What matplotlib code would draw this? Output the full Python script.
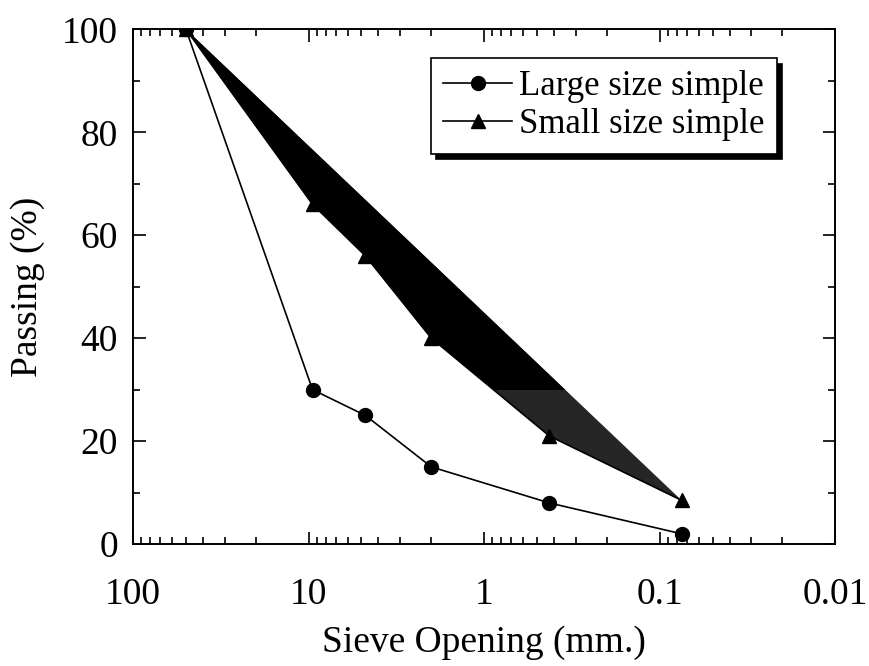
import matplotlib.pyplot as plt
from matplotlib.patches import Rectangle
from matplotlib.ticker import FixedLocator, FuncFormatter, MultipleLocator

plt.rcParams['font.family'] = ['Liberation Serif', 'DejaVu Serif']

# sieve openings (mm) and percent passing
sieve = [50, 9.5, 4.75, 2.0, 0.425, 0.075]
large = [100, 30, 25, 15, 8, 2]
small = [100, 66, 56, 40, 21, 8.5]
xticks = [100, 10, 1, 0.1, 0.01]

fig = plt.figure(figsize=(8.7, 6.66), dpi=100)
ax = fig.add_axes([0.153, 0.183, 0.807, 0.773])

# filled envelope of the small sample curve (lower part prints a bit lighter)
ax.fill(sieve, small, color='#262626', lw=0, zorder=1)
top = ax.fill(sieve, small, color='black', lw=0, zorder=1)[0]
clip = Rectangle((1000, 30), -1000, 100, transform=ax.transData)
top.set_clip_path(clip)

ax.plot(sieve, large, color='black', lw=1.2, marker='o', markersize=10,
        label='Large size simple', zorder=3)
ax.plot(sieve, small, color='black', lw=1.2, marker='^', markersize=10,
        label='Small size simple', zorder=2)

ax.set_xscale('log')
ax.set_xlim(100, 0.01)
ax.set_ylim(0, 100)
ax.xaxis.set_major_locator(FixedLocator(xticks))
ax.xaxis.set_major_formatter(FuncFormatter(lambda v, p: '%g' % v))
ax.yaxis.set_major_locator(MultipleLocator(20))
ax.yaxis.set_minor_locator(MultipleLocator(10))

ax.tick_params(which='both', direction='in', top=True, right=True, width=1.2)
ax.tick_params(which='major', length=9, labelsize=27)
ax.tick_params(which='minor', length=5)
ax.tick_params(axis='x', which='major', pad=24)
ax.tick_params(axis='y', which='major', pad=11)
for s in ax.spines.values():
    s.set_linewidth(1.4)

ax.set_xlabel('Sieve Opening (mm.)', fontsize=27, labelpad=10)
ax.set_ylabel('Passing (%)', fontsize=27, labelpad=12)

leg = ax.legend(loc='upper right', bbox_to_anchor=(0.917, 0.944), fontsize=25,
                fancybox=False, framealpha=1, edgecolor='black',
                shadow={'ox': 4, 'oy': -4, 'color': 'black', 'alpha': 1},
                handlelength=2.0, handletextpad=0.2, borderpad=0.35,
                labelspacing=0.15, borderaxespad=0)
leg.get_frame().set_linewidth(1.2)

plt.savefig('out.png', dpi=100)
